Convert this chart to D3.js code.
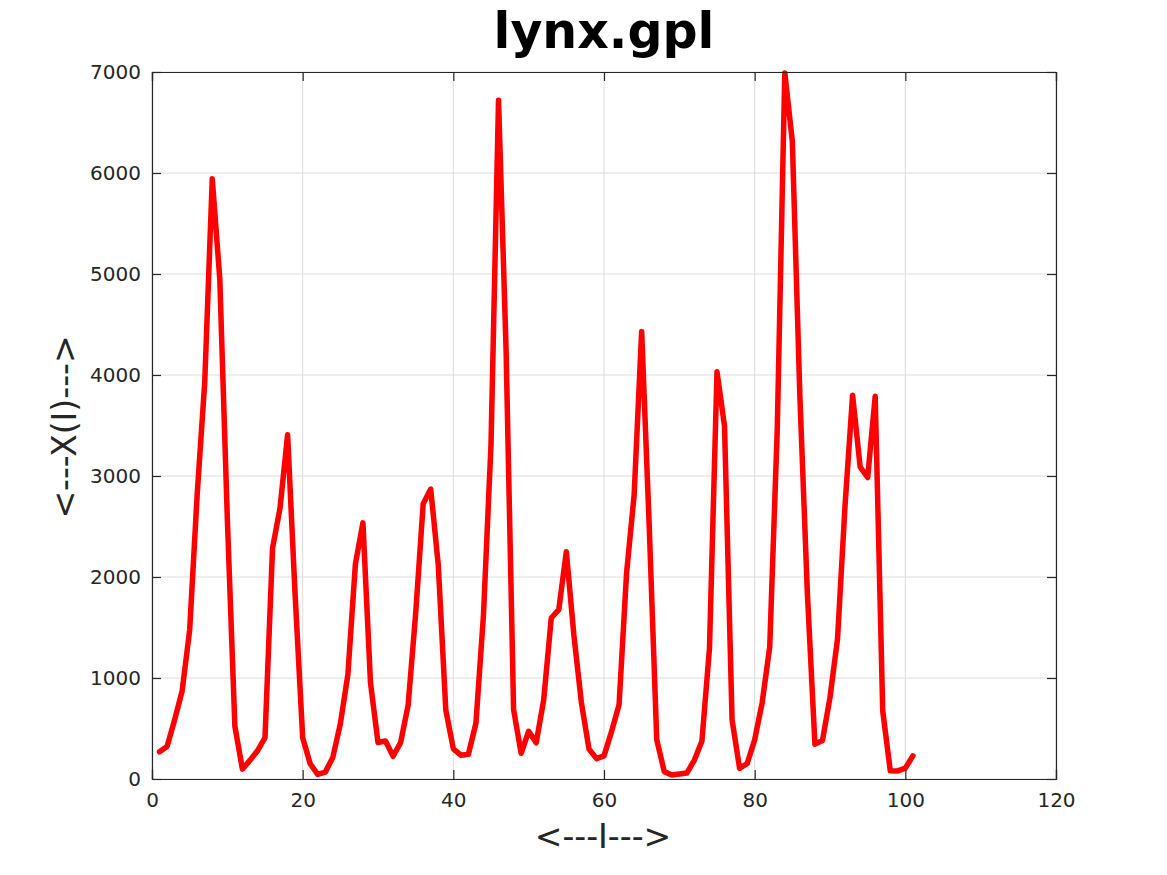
<!DOCTYPE html>
<html><head><meta charset="utf-8">
<script src="https://cdn.jsdelivr.net/npm/d3@7"></script>
<style>body{margin:0;background:#fff}svg{display:block}text{font-family:"DejaVu Sans",sans-serif}</style>
</head><body>
<script>
const values = [269,321,585,871,1475,2821,3928,5943,4950,2577,523,98,184,279,409,2285,2685,3409,1824,409,151,45,68,213,546,1033,2129,2536,957,361,377,225,360,731,1638,2725,2871,2119,684,299,236,245,552,1623,3311,6721,4254,687,255,473,358,784,1594,1676,2251,1426,756,299,201,229,469,736,2042,2811,4431,2511,389,73,39,49,59,188,377,1292,4031,3495,587,105,153,387,758,1307,3465,6991,6313,3794,1836,345,382,808,1388,2713,3800,3091,2985,3790,674,81,80,108,229];
const xTicks = [0,20,40,60,80,100,120];
const yTicks = [0,1000,2000,3000,4000,5000,6000,7000];
const title = "lynx.gpl", xLabel = "<---I--->", yLabel = "<---X(I)--->";

const W=1167,H=875, L=152,R=1056,T=72,B=779;
const svg=d3.select("body").append("svg").attr("width",W).attr("height",H);
const x=d3.scaleLinear().domain([0,120]).range([L,R]);
const y=d3.scaleLinear().domain([0,7000]).range([B,T]);

// grid
svg.append("g").selectAll("line").data(xTicks).join("line")
 .attr("x1",d=>x(d)).attr("x2",d=>x(d)).attr("y1",T).attr("y2",B).attr("stroke","#dcdcdc").attr("stroke-width",1);
svg.append("g").selectAll("line").data(yTicks).join("line")
 .attr("y1",d=>y(d)).attr("y2",d=>y(d)).attr("x1",L).attr("x2",R).attr("stroke","#dcdcdc").attr("stroke-width",1);

// line
const data=values.map((v,i)=>[i+1,v]);
svg.append("path").datum(data).attr("fill","none").attr("stroke","#ff0000").attr("stroke-width",5.5)
 .attr("stroke-linejoin","round").attr("stroke-linecap","round")
 .attr("d",d3.line().x(d=>x(d[0])).y(d=>y(d[1])));

// axes
const ax=svg.append("g").attr("transform",`translate(0,${B})`).call(d3.axisBottom(x).tickValues(xTicks).tickSize(-9).tickPadding(14).tickFormat(d3.format("d")));
const ay=svg.append("g").attr("transform",`translate(${L},0)`).call(d3.axisLeft(y).tickValues(yTicks).tickSize(-9).tickPadding(11).tickFormat(d3.format("d")));
const at=svg.append("g").attr("transform",`translate(0,${T})`).call(d3.axisTop(x).tickValues(xTicks).tickSize(-9).tickFormat(""));
const ar=svg.append("g").attr("transform",`translate(${R},0)`).call(d3.axisRight(y).tickValues(yTicks).tickSize(-9).tickFormat(""));
[ax,ay,at,ar].forEach(g=>{g.select(".domain").attr("stroke","#262626").attr("stroke-width",1.2);
 g.selectAll(".tick line").attr("stroke","#262626").attr("stroke-width",1.2);
 g.selectAll("text").attr("fill","#262626").style("font-size","20px").style("font-family","DejaVu Sans");});

svg.append("text").attr("x",604).attr("y",48).attr("text-anchor","middle").style("font-size","49px").style("font-weight","bold").attr("fill","#000").text(title);
svg.append("text").attr("x",603).attr("y",848).attr("text-anchor","middle").style("font-size","33px").attr("fill","#262626").text(xLabel);
svg.append("text").attr("transform","translate(76,427) rotate(-90)").attr("text-anchor","middle").style("font-size","33px").attr("fill","#262626").text(yLabel);
</script>
</body></html>
